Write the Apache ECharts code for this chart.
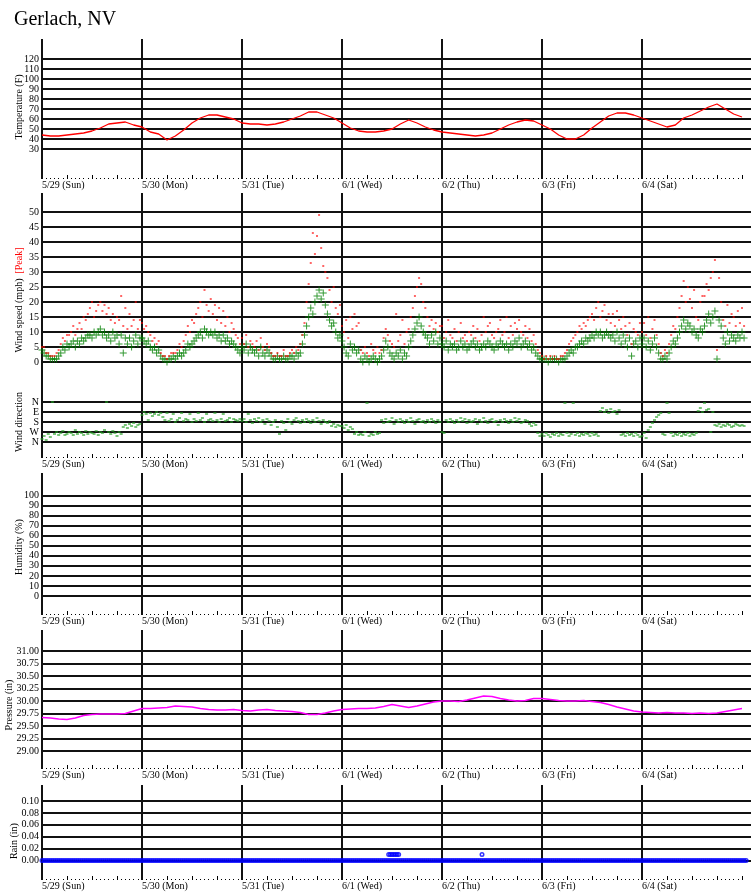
<!DOCTYPE html>
<html><head><meta charset="utf-8">
<script src="https://cdn.jsdelivr.net/npm/echarts@6/dist/echarts.min.js"></script>
<style>html,body{margin:0;padding:0;background:#fff}#c{width:751px;height:895px}</style>
</head><body><div id="c"></div><script>
// ---------- DATA ----------
const title = 'Gerlach, NV';
const dayLabels = ['5/29 (Sun)','5/30 (Mon)','5/31 (Tue)','6/1 (Wed)','6/2 (Thu)','6/3 (Fri)','6/4 (Sat)'];
const dayStartHours = [0,24,48,72,96,120,144,168];

const tempTicks = [30,40,50,60,70,80,90,100,110,120];
const windTicks = [0,5,10,15,20,25,30,35,40,45,50];
const dirTicks = [0,1,2,3,4];
const dirNames = ['N','W','S','E','N'];
const humTicks = [0,10,20,30,40,50,60,70,80,90,100];
const presTicks = [29.00,29.25,29.50,29.75,30.00,30.25,30.50,30.75,31.00];
const rainTicks = [0,0.02,0.04,0.06,0.08,0.10];

// temperature (F), every 2 hours from 5/29 00:00
const temperature = [
 44,43,43,44,45,46,48,51,55,56,57,54,
 52,47,45,39,43,49,56,61,64,64,62,60,
 56,55,55,54,55,57,60,63,67,67,64,61,
 56,51,48,47,47,48,50,55,59,56,52,49,
 47,46,45,44,43,44,46,50,54,57,59,58,
 54,50,44,40,40,44,51,57,63,66,66,64,
 61,58,55,52,54,61,64,68,72,75,70,65,
 62];

// pressure (in), every 2 hours
const pressure = [
 29.67,29.66,29.64,29.63,29.66,29.71,29.73,29.74,29.74,29.74,29.75,29.80,
 29.85,29.85,29.86,29.87,29.90,29.89,29.88,29.85,29.83,29.82,29.82,29.83,
 29.81,29.80,29.82,29.83,29.81,29.80,29.79,29.77,29.73,29.73,29.76,29.80,
 29.83,29.84,29.85,29.85,29.86,29.89,29.93,29.90,29.87,29.90,29.94,29.98,
 30.00,30.00,29.99,30.02,30.06,30.10,30.09,30.05,30.02,30.00,30.01,30.05,
 30.05,30.03,30.01,30.00,30.00,30.01,29.99,29.97,29.93,29.88,29.84,29.80,
 29.78,29.77,29.76,29.77,29.76,29.76,29.75,29.76,29.75,29.76,29.79,29.82,
 29.85];

// wind speed average (mph), every 30 minutes
const windAvgD1 = [4,3,2,2,1,1,1,1,2,3,5,4,6,5,6,7,5,7,6,8,7,8,9,9,8,10,9,10,11,9,10,8,9,7,10,8,9,6,9,3,8,6,8,5,7,9,6,8];
const windAvgD2 = [8,7,6,7,5,4,5,3,4,2,1,1,0,1,1,2,1,2,3,2,3,4,6,5,6,7,8,9,10,8,11,10,9,10,9,10,8,9,7,9,7,8,6,7,6,5,4,3];
const windAvgD3 = [5,4,6,3,5,4,3,4,2,5,3,2,4,3,2,1,1,2,1,1,2,1,1,2,2,1,3,2,3,6,9,12,15,18,16,20,22,24,21,23,19,16,14,12,13,10,8,9];
const windAvgD4 = [7,5,3,2,6,4,5,3,4,1,0,2,1,0,1,2,1,0,1,2,4,7,5,3,2,1,3,2,4,1,3,2,5,7,9,11,13,15,12,10,9,8,6,9,7,10,6,8];
const windAvgD5 = [6,5,7,4,6,5,6,4,5,7,5,6,4,5,6,7,5,6,4,5,6,5,7,6,5,4,6,5,7,6,5,6,4,6,5,7,6,8,5,6,7,5,6,4,5,3,2,1];
const windAvgD6 = [1,1,1,0,1,1,1,1,0,1,1,1,2,3,4,3,5,5,6,7,6,8,7,8,9,8,10,9,10,8,9,10,9,8,9,7,10,8,6,9,7,5,8,2,6,7,5,8];
const windAvgD7 = [6,8,5,7,4,6,8,5,3,1,1,2,1,3,5,7,6,8,10,12,14,11,13,12,10,11,9,8,11,10,12,14,16,13,15,17,1,14,12,8,6,10,7,9,8,7,9,8,10,8];

// wind speed peak (mph), every 30 minutes
const windPeakD1 = [5,5,3,3,2,2,2,3,4,6,8,7,9,9,10,12,9,11,13,11,15,14,16,18,20,15,17,19,20,17,19,16,18,14,16,13,15,14,22,12,18,11,16,12,14,20,11,14];
const windPeakD2 = [13,11,12,10,9,7,8,6,7,3,2,2,1,2,3,3,3,4,6,5,7,9,12,10,14,13,16,18,20,15,24,19,17,21,16,19,14,18,13,17,12,15,10,13,11,9,8,6];
const windPeakD3 = [8,6,9,5,7,6,5,7,4,8,5,4,6,5,3,2,2,3,2,2,4,2,2,3,4,3,5,4,6,9,13,20,26,33,43,36,42,49,38,32,30,28,24,20,25,18,16,19];
const windPeakD4 = [12,10,14,8,15,11,16,12,13,4,3,5,3,2,6,4,3,5,3,4,8,11,9,7,6,5,16,7,9,14,6,10,11,15,18,22,25,28,26,20,18,15,12,14,11,13,10,12];
const windPeakD5 = [12,8,10,14,9,8,11,7,10,13,8,9,7,10,9,12,8,11,7,9,15,10,12,13,9,8,10,11,14,9,10,15,8,12,9,13,11,14,10,9,12,8,11,7,9,6,4,3];
const windPeakD6 = [2,1,2,1,2,1,2,1,1,2,2,3,4,6,7,8,9,10,12,11,13,12,14,15,16,14,18,20,15,17,19,14,16,13,16,12,17,14,11,15,12,9,13,6,11,10,9,13];
const windPeakD7 = [10,13,9,15,8,11,14,9,6,3,2,4,3,6,9,12,11,15,18,22,27,20,25,21,18,24,15,14,20,22,22,26,24,28,30,34,4,28,20,14,12,19,13,16,15,12,17,13,18,12];

// wind direction, every 30 minutes (0=N, 1=W, 2=S, 3=E, 4=N)
const dirD1 = [0.3,0.6,0.2,0.8,0.5,4.0,0.8,1.0,0.7,0.9,1.1,0.7,0.8,1.0,0.9,0.7,1.2,0.8,1.0,0.9,0.7,1.1,0.8,1.0,0.9,0.8,1.1,0.7,1.0,0.9,1.2,4.0,1.0,0.8,1.1,0.9,0.6,1.0,0.8,1.5,1.7,1.4,1.8,1.6,1.9,1.5,1.7,1.8];
const dirD2 = [2.7,3.0,2.8,2.2,2.9,2.6,2.8,3.0,2.7,2.9,2.5,2.2,2.9,2.1,2.3,2.8,2.0,2.2,2.4,2.9,2.1,2.3,2.2,2.8,2.0,2.3,2.1,2.9,2.2,2.4,2.0,2.8,2.2,2.3,2.1,2.9,2.2,2.0,2.3,2.8,2.1,2.2,2.4,2.0,2.3,2.2,2.1,2.3];
const dirD3 = [2.1,2.3,2.0,2.8,2.2,1.9,2.3,2.1,2.4,2.0,2.2,1.8,2.3,2.1,1.7,2.0,2.2,1.5,0.8,2.1,1.9,1.2,2.3,2.0,1.8,2.2,2.4,2.1,1.9,2.2,2.0,2.3,2.1,1.9,2.2,2.0,2.4,2.1,1.8,2.2,2.0,1.9,2.1,1.6,1.8,1.5,1.7,1.6];
const dirD4 = [1.6,1.4,1.7,1.2,1.5,1.3,0.8,1.0,0.7,0.8,0.7,1.0,3.9,0.6,0.8,0.7,1.0,0.8,0.9,2.2,1.9,2.3,2.0,2.1,2.4,1.8,2.2,2.0,2.3,2.1,1.9,2.2,2.0,2.4,2.1,1.8,2.2,2.3,2.0,2.1,1.9,2.2,2.0,2.3,2.1,1.9,2.2,2.0];
const dirD5 = [1.0,0.9,2.2,2.0,2.3,2.1,1.9,2.2,2.0,2.4,2.1,2.3,1.9,2.2,2.0,2.1,2.3,1.8,2.2,2.0,2.4,2.1,1.9,2.2,2.3,2.0,2.1,1.7,2.2,2.0,2.3,2.1,1.9,2.2,2.0,2.4,2.1,2.3,1.9,2.0,2.2,2.1,1.8,1.6,1.9,1.7,0.9,0.6];
const dirD6 = [0.8,0.6,0.9,0.7,0.5,0.8,0.7,0.9,0.6,0.8,0.7,3.9,0.9,0.6,0.8,3.9,0.7,0.9,0.6,0.8,0.7,0.9,0.8,0.6,0.9,0.7,0.8,0.6,3.1,3.4,3.0,3.2,2.9,3.3,3.0,3.1,2.8,3.2,0.7,0.8,0.6,0.9,0.7,0.8,0.6,0.9,0.7,0.5];
const dirD7 = [0.6,0.9,0.4,1.2,1.5,1.9,2.2,2.5,2.7,2.9,0.8,0.7,3.9,2.9,0.9,0.6,0.8,0.7,0.9,0.6,0.8,0.7,0.9,0.6,0.8,0.7,0.9,3.1,3.4,3.0,3.9,3.2,3.3,1.0,3.0,1.7,1.6,1.8,1.5,1.7,1.6,1.8,1.7,1.5,1.6,1.8,1.7,1.6,1.7,1.6];

// rain (in), every 30 minutes, plus extra readings
const rainD1 = [0,0,0,0,0,0,0,0,0,0,0,0,0,0,0,0,0,0,0,0,0,0,0,0,0,0,0,0,0,0,0,0,0,0,0,0,0,0,0,0,0,0,0,0,0,0,0,0];
const rainD2 = [0,0,0,0,0,0,0,0,0,0,0,0,0,0,0,0,0,0,0,0,0,0,0,0,0,0,0,0,0,0,0,0,0,0,0,0,0,0,0,0,0,0,0,0,0,0,0,0];
const rainD3 = [0,0,0,0,0,0,0,0,0,0,0,0,0,0,0,0,0,0,0,0,0,0,0,0,0,0,0,0,0,0,0,0,0,0,0,0,0,0,0,0,0,0,0,0,0,0,0,0];
const rainD4 = [0,0,0,0,0,0,0,0,0,0,0,0,0,0,0,0,0,0,0,0,0,0,0,0,0,0,0,0,0,0,0,0,0,0,0,0,0,0,0,0,0,0,0,0,0,0,0,0];
const rainD5 = [0,0,0,0,0,0,0,0,0,0,0,0,0,0,0,0,0,0,0,0,0,0,0,0,0,0,0,0,0,0,0,0,0,0,0,0,0,0,0,0,0,0,0,0,0,0,0,0];
const rainD6 = [0,0,0,0,0,0,0,0,0,0,0,0,0,0,0,0,0,0,0,0,0,0,0,0,0,0,0,0,0,0,0,0,0,0,0,0,0,0,0,0,0,0,0,0,0,0,0,0];
const rainD7 = [0,0,0,0,0,0,0,0,0,0,0,0,0,0,0,0,0,0,0,0,0,0,0,0,0,0,0,0,0,0,0,0,0,0,0,0,0,0,0,0,0,0,0,0,0,0,0,0,0,0,0];
const rainExtraHours = [83.2,83.6,84.0,84.4,84.8,85.2,85.6,105.6];
const rainExtraValues = [0.01,0.01,0.01,0.01,0.01,0.01,0.01,0.01];

// ---------- BUILD ----------
const FONT = '"Liberation Serif","Times New Roman",Times,serif';
const XMAX = 170.16;
const windAvg = [].concat(windAvgD1,windAvgD2,windAvgD3,windAvgD4,windAvgD5,windAvgD6,windAvgD7);
const windPeak = [].concat(windPeakD1,windPeakD2,windPeakD3,windPeakD4,windPeakD5,windPeakD6,windPeakD7);
const windDir = [].concat(dirD1,dirD2,dirD3,dirD4,dirD5,dirD6,dirD7);
const rain = [].concat(rainD1,rainD2,rainD3,rainD4,rainD5,rainD6,rainD7);

const halfHourly = arr => arr.map((v,i)=>[i*0.5, v]);
const twoHourly = arr => arr.map((v,i)=>[i*2, v]);
const rainPoints = halfHourly(rain).concat(rainExtraHours.map((h,i)=>[h, rainExtraValues[i]]));

const plusPath = 'path://M3 0h1v3h3v1h-3v3h-1v-3h-3v-1h3z';

const panels = [
  {top:39, height:140, min:0, max:140, ticks:tempTicks, fmt:v=>String(Math.round(v)), xTicks:true,
   series:[{type:'line', data:twoHourly(temperature), symbol:'none', lineStyle:{color:'#ff0000', width:1.3}}]},
  {top:193, height:179, min:-10/3, max:169/3, ticks:windTicks, fmt:v=>String(Math.round(v)), xTicks:false,
   series:[
     {type:'scatter', data:halfHourly(windAvg), symbol:plusPath, symbolSize:7, itemStyle:{color:'#008000'}},
     {type:'scatter', data:halfHourly(windPeak), symbol:'rect', symbolSize:[2,1.5], itemStyle:{color:'#ff0000'}}
   ]},
  {top:372, height:86, min:-1.6, max:7, ticks:dirTicks, fmt:v=>dirNames[Math.round(v)], xTicks:true,
   series:[{type:'scatter', data:halfHourly(windDir), symbol:'rect', symbolSize:[3,1.5], itemStyle:{color:'#1e9e1e'}}]},
  {top:473, height:142, min:-19, max:122.6, ticks:humTicks, fmt:v=>String(Math.round(v)), xTicks:true, series:[]},
  {top:630, height:139, min:28.64, max:31.42, ticks:presTicks, fmt:v=>v.toFixed(2), xTicks:true,
   series:[{type:'line', data:twoHourly(pressure), symbol:'none', lineStyle:{color:'#ff00ff', width:1.5}}]},
  {top:785, height:95, min:-0.03277, max:0.12689, ticks:rainTicks, fmt:v=>v.toFixed(2), xTicks:true,
   series:[{type:'scatter', data:rainPoints, symbol:'circle', symbolSize:3.5,
            itemStyle:{color:'rgba(0,0,0,0)', borderColor:'#0000ff', borderWidth:1.5}}]}
];

const grids=[], xAxes=[], yAxes=[], series=[];
const labelStyle = {fontFamily:FONT, fontSize:10, color:'#000', hideOverlap:false};

panels.forEach(p => {
  const gi = grids.length;
  grids.push({left:42, right:0, top:p.top, height:p.height, outerBoundsMode:'none', containLabel:false});
  xAxes.push({type:'value', gridIndex:gi, min:0, max:XMAX,
    axisLine:{show:false}, axisTick:{show:false}, splitLine:{show:false},
    axisLabel: p.xTicks ? Object.assign({show:true, customValues:dayStartHours.slice(0,7),
        formatter:v=>dayLabels[Math.round(v/24)], align:'left', margin:1}, labelStyle) : {show:false}});
  yAxes.push({type:'value', gridIndex:gi, min:p.min, max:p.max,
    axisLine:{show:false}, axisTick:{show:false}, splitLine:{show:false},
    axisLabel:Object.assign({show:true, customValues:p.ticks, formatter:p.fmt, margin:3}, labelStyle)});
  series.push({type:'line', xAxisIndex:gi, yAxisIndex:gi, data:[], symbol:'none', silent:true,
    markLine:{silent:true, z:1, symbol:['none','none'], label:{show:false}, animation:false,
      emphasis:{disabled:true},
      lineStyle:{color:'#111', width:2, type:'solid'},
      data:p.ticks.map(v=>({yAxis:v})).concat(dayStartHours.slice(0,7).map(h=>({xAxis:h})))}});
  p.series.forEach(s => series.push(Object.assign({xAxisIndex:gi, yAxisIndex:gi, silent:true, z:3}, s)));
});

// tick rows (6-hour ticks + hourly dots)
panels.forEach(p => {
  if (!p.xTicks) return;
  const gi = grids.length;
  grids.push({left:42, width:700, top:p.top, height:p.height, outerBoundsMode:'none', containLabel:false});
  xAxes.push({type:'value', gridIndex:gi, min:0, max:168, interval:6, position:'bottom',
    axisLine:{show:false}, axisLabel:{show:false}, splitLine:{show:false},
    axisTick:{show:true, inside:true, length:4, lineStyle:{color:'#000', width:1}},
    minorTick:{show:true, splitNumber:6, length:1, lineStyle:{color:'#000', width:1}}});
  yAxes.push({type:'value', gridIndex:gi, min:0, max:1, show:false});
});

const axisTitle = (x, y, text) => ({type:'text', x, y, rotation:Math.PI/2,
  style:{text, fontFamily:FONT, fontSize:10, fill:'#000', align:'center', verticalAlign:'middle'}});

const graphic = [
  {type:'text', x:14, y:20, style:{text:title, fontFamily:FONT, fontSize:20, fill:'#000', align:'left', verticalAlign:'middle'}},
  axisTitle(19, 107, 'Temperature (F)'),
  {type:'text', x:19, y:300, rotation:Math.PI/2,
   style:{text:'{a|Wind speed (mph)}  {b|[Peak]}', align:'center', verticalAlign:'middle',
     fontFamily:FONT, fontSize:10,
     rich:{a:{fill:'#000', fontFamily:FONT, fontSize:10}, b:{fill:'#ff0000', fontFamily:FONT, fontSize:10}}}},
  axisTitle(19, 422, 'Wind direction'),
  axisTitle(19, 547, 'Humidity (%)'),
  axisTitle(9, 705, 'Pressure (in)'),
  axisTitle(14, 841, 'Rain (in)')
];

const chart = echarts.init(document.getElementById('c'), null, {renderer:'canvas'});
chart.setOption({
  animation:false,
  backgroundColor:'#fff',
  grid:grids, xAxis:xAxes, yAxis:yAxes, series, graphic
});
</script></body></html>
